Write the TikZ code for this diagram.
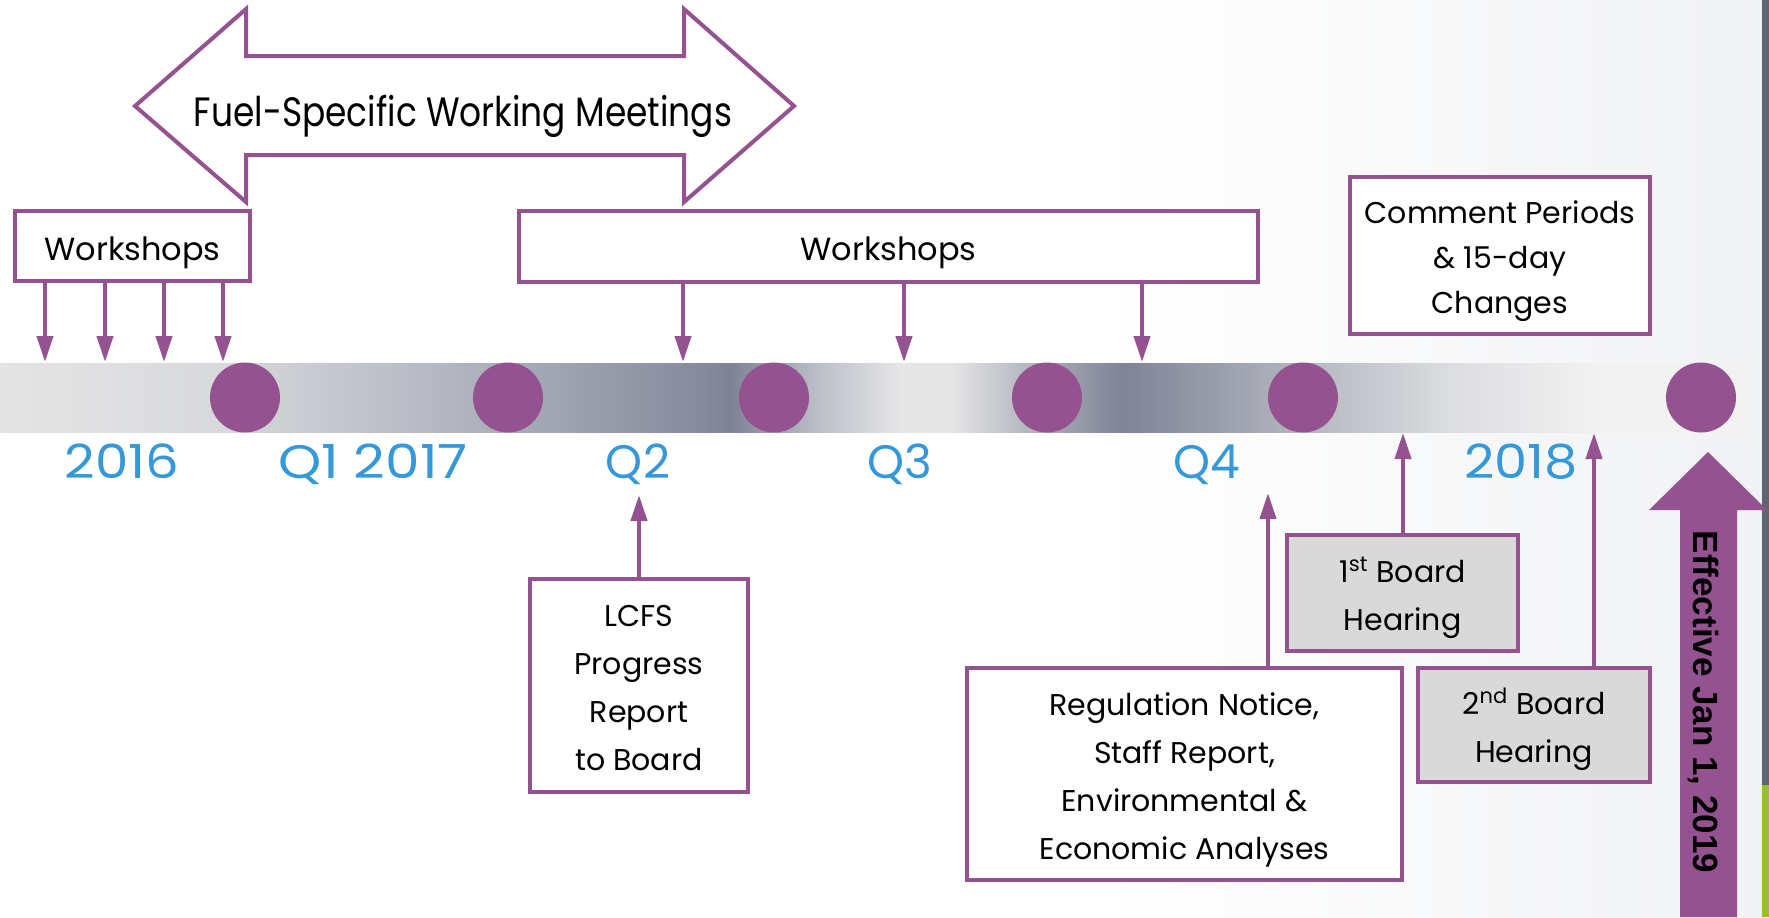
\documentclass[tikz,border=0pt]{standalone}
\usepackage{fontspec}
\setmainfont{Poppins}
\newfontfamily\effont{Liberation Sans}
\usetikzlibrary{arrows.meta}
\definecolor{lpurple}{RGB}{149,82,145}
\definecolor{lblue}{RGB}{52,152,219}
\definecolor{hgray}{RGB}{217,217,217}
\definecolor{slate}{RGB}{90,103,112}
\definecolor{lgreen}{RGB}{153,194,33}
\definecolor{bgr}{HTML}{F1F2F4}
\definecolor{ba}{HTML}{E4E4E4}
\definecolor{bb}{HTML}{D8D9DC}
\definecolor{bc}{HTML}{A9ADB8}
\definecolor{bd}{HTML}{868B9D}
\definecolor{be}{HTML}{7D8296}
\definecolor{bf}{HTML}{BABDC6}
\definecolor{bg}{HTML}{E6E6E7}
\definecolor{bh}{HTML}{A8ABB5}
\definecolor{bi}{HTML}{7E8396}
\definecolor{bj}{HTML}{B4B7C0}
\definecolor{bk}{HTML}{DCDDE0}
\definecolor{bl}{HTML}{F2F2F2}
\pgfdeclarehorizontalshading{barsh}{100bp}{color(0bp)=(ba); color(25bp)=(ba); color(31.28bp)=(bb); color(39.51bp)=(bc); color(44.99bp)=(bd); color(45.85bp)=(be); color(48.27bp)=(bf); color(50.7bp)=(bg); color(52.13bp)=(bg); color(54.9bp)=(bh); color(57.04bp)=(bi); color(62.21bp)=(bj); color(66.41bp)=(bk); color(70.69bp)=(bl); color(75bp)=(bl); color(100bp)=(bl)}
\pgfdeclarehorizontalshading{bgsh}{100bp}{color(0bp)=(white); color(56bp)=(white); color(75bp)=(bgr); color(100bp)=(bgr)}
\newcommand{\btxt}[1]{\raisebox{-1.8pt}[\height][\depth]{\begin{tabular}{@{}c@{}}#1\end{tabular}}}
\begin{document}
\begin{tikzpicture}[x=0.5pt,y=-0.5pt,
  box/.style={draw=lpurple, line width=2pt, fill=white, inner sep=0pt,
    font=\fontsize{15}{24}\selectfont},
  wbox/.style={box, font=\fontsize{16}{20}\selectfont, execute at begin node={\rule{0pt}{18.5pt}}},
  gbox/.style={box, fill=hgray},
  arr/.style={draw=lpurple, line width=2pt, -{Triangle[length=13pt,width=8pt]}},
  lbl/.style={text=lblue, font=\fontsize{23.5}{28}\selectfont, anchor=base, inner sep=0pt},
  dot/.style={circle, fill=lpurple, minimum size=35pt, inner sep=0pt}
]
\path[shading=bgsh] (0,0) rectangle (1769,917);
\useasboundingbox (0,0) rectangle (1769,917);
\fill[slate] (1762,0) rectangle (1769,785);
\fill[lgreen] (1762,785) rectangle (1769,917);

% timeline bar
\path[shading=barsh] (0,363) rectangle (1751,432);
\node[dot] (c1) at (245,397.5) {};
\node[dot] (c2) at (508,397.5) {};
\node[dot] (c3) at (774,397.5) {};
\node[dot] (c4) at (1047,397.5) {};
\node[dot] (c5) at (1303,397.5) {};
\node[dot] (c6) at (1701,397.5) {};

% double arrow
\draw[lpurple, line width=2pt, fill=white] (135,106) -- (246,9) -- (246,56) -- (684,56) -- (684,9) -- (794,106) -- (684,202) -- (684,155) -- (246,155) -- (246,202) -- cycle;
\node[anchor=base, inner sep=0pt, font=\fontsize{20.5}{24}\selectfont] (fsw) at (463,126) {\scalebox{0.84}[1]{Fuel-Specific Working Meetings}};

% boxes
\node[wbox, minimum width=117.5pt, minimum height=35pt] (ws1) at (132.5,246) {Workshops};
\node[wbox, minimum width=369.5pt, minimum height=35.5pt] (ws2) at (888.5,246.5) {Workshops};
\node[box, minimum width=150pt, minimum height=78.5pt, font=\fontsize{15}{22.5}\selectfont] (cp) at (1500,255.5) {\btxt{Comment Periods\\ \& 15-day\\ Changes}};
\node[box, minimum width=109pt, minimum height=106.5pt] (lcfs) at (639,685.5) {\btxt{LCFS\\Progress\\Report\\to Board}};
\node[box, minimum width=217.5pt, minimum height=106pt] (reg) at (1184.5,774) {\btxt{Regulation Notice,\\Staff Report,\\Environmental \&\\Economic Analyses}};
\node[gbox, minimum width=115.5pt, minimum height=58pt] (bh1) at (1402.5,593) {\btxt{1\textsuperscript{st} Board\\Hearing}};
\node[gbox, minimum width=116pt, minimum height=57pt] (bh2) at (1534,725) {\btxt{2\textsuperscript{nd} Board\\Hearing}};

% labels
\node[lbl] (l2016) at (122,478) {\scalebox{1.13}[1]{2016}};
\node[lbl] (lq1) at (373,478) {\scalebox{1.17}[1]{Q1 2017}};
\node[lbl] (lq2) at (638,478) {Q2};
\node[lbl] (lq3) at (900,478) {Q3};
\node[lbl] (lq4) at (1207,478) {Q4};
\node[lbl] (l2018) at (1521,478) {\scalebox{1.12}[1]{2018}};

% arrows
\coordinate (t1) at (45,362);
\coordinate (t2) at (105,362);
\coordinate (t3) at (164,362);
\coordinate (t4) at (223,362);
\coordinate (m1) at (683,362);
\coordinate (m2) at (904,362);
\coordinate (m3) at (1142,362);
\coordinate (u1) at (639,495);
\coordinate (u2) at (1268,493);
\coordinate (u3) at (1403,433);
\coordinate (u4) at (1594,433);
\foreach \t in {t1,t2,t3,t4} \draw[arr] (ws1.south -| \t) -- (\t);
\foreach \t in {m1,m2,m3} \draw[arr] (ws2.south -| \t) -- (\t);
\draw[arr] (lcfs.north) -- (u1);
\draw[arr] (reg.north -| u2) -- (u2);
\draw[arr] (bh1.north -| u3) -- (u3);
\draw[arr] (bh2.north -| u4) -- (u4);

% effective arrow
\fill[lpurple] (1680,917) -- (1680,510) -- (1649,510) -- (1708,452) -- (1767,510) -- (1737,510) -- (1737,917) -- cycle;
\node[rotate=-90, anchor=base, inner sep=0pt, font=\effont\bfseries\fontsize{17.5}{20}\selectfont] (eff) at (1693,702) {Effective Jan 1, 2019};
\end{tikzpicture}
\end{document}
